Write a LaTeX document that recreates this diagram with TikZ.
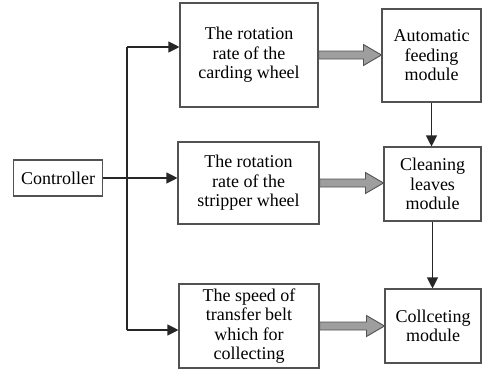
\documentclass[tikz,border=0pt]{standalone}
\usepackage{fontspec}
\setmainfont{Liberation Serif}
\newfontfamily\blockfont{Liberation Serif}
\usetikzlibrary{arrows.meta}
\usetikzlibrary{calc}
\definecolor{boxgray}{rgb}{0.32, 0.32, 0.32}
\definecolor{fatgray}{rgb}{0.62, 0.62, 0.62}
\newcommand{\fatarrow}[2]{%
\draw[fat] ($(#1.east)+(0,-4)$) -- ($(#2.west |- #1.east)+(-18,-4)$) -- ++(0,-6.5) -- (#2.west |- #1.east) -- ++(-18,10.5) -- ++(0,-6.5) -- ($(#1.east)+(0,4)$) -- cycle;
}

\begin{document}
\begin{tikzpicture}[x=1pt, y=-1pt,
  block/.style={draw=boxgray, line width=1.1pt, align=center, inner sep=0pt, font=\blockfont\fontsize{18}{19.5}\selectfont},
  link/.style={draw=black!85, line width=1.1pt, -{Triangle[length=11pt,width=11pt]}},
  fat/.style={draw=boxgray, line width=0.9pt, fill=fatgray}]

\useasboundingbox (0,0) rectangle (482,370);

%
\node[block, minimum width=89pt, minimum height=36pt] (ctrl) at (58,178) {Controller};

\node[block, minimum width=138pt, minimum height=104pt] (carding) at (249,55) {The rotation\\rate of the\\carding wheel};
\node[block, minimum width=141pt, minimum height=82pt] (stripper) at (248.5,183) {The rotation\\rate of the\\stripper wheel};
\node[block, minimum width=140pt, minimum height=84pt] (transfer) at (249,326) {The speed of\\transfer belt\\which for\\collecting};

\node[block, minimum width=99pt, minimum height=93pt] (feeding) at (431.5,55.5) {Automatic\\feeding\\module};
\node[block, minimum width=97pt, minimum height=74pt] (cleaning) at (432.5,184) {Cleaning\\leaves\\module};
\node[block, minimum width=96pt, minimum height=74pt] (collecting) at (433,326) {Collceting\\module};

%
\coordinate (jtop) at (127,47);
\coordinate (jbot) at (127,330);
\draw[draw=black!85, line width=1.1pt] (jtop) -- (jbot);
\draw[link] (jtop) -- (jtop -| carding.west);
\draw[link] (ctrl.east) -- (ctrl.east -| stripper.west);
\draw[link] (jbot) -- (jbot -| transfer.west);

%
\fatarrow{carding}{feeding}
\fatarrow{stripper}{cleaning}
\fatarrow{transfer}{collecting}

%
\draw[link] (feeding.south) -- (cleaning.north -| feeding.south);
\draw[link] (cleaning.south) -- (collecting.north -| cleaning.south);

\end{tikzpicture}
\end{document}
